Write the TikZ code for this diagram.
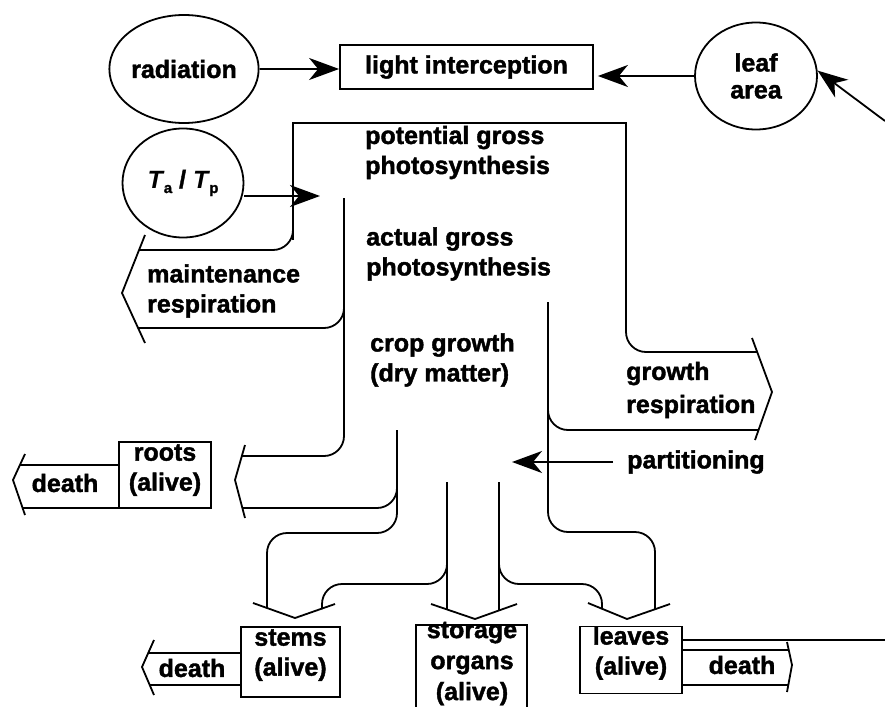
\documentclass[tikz,border=0pt]{standalone}
\usepackage{fontspec}
\setmainfont{Liberation Sans}[BoldFeatures={FakeBold=1.6}]
\usetikzlibrary{arrows.meta,shapes.geometric}
\newcommand\dfont{\fontsize{25}{30}\selectfont\bfseries}
\newcommand\dnr[1]{\rule[-#1]{0pt}{#1}}
\begin{document}
\begin{tikzpicture}[x=1pt,y=-1pt,
  every node/.style={font=\dfont, inner sep=0pt},
  ln/.style={line width=1.8pt},
  rc/.style={ln, rounded corners=20pt},
  circ/.style={ellipse, draw, line width=1.8pt, align=center},
  box/.style={rectangle, draw, line width=1.8pt, align=center},
  lbl/.style={align=left, anchor=west},
  arr/.style={line width=1.8pt, -{Stealth[length=30pt,width=22pt,inset=9pt]}},
  chev/.style={line width=1.8pt, line join=miter}
]
\useasboundingbox (0,0) rectangle (885,706);
\clip (0,0) rectangle (885,706);

% input circles and top box
\node[circ, minimum width=120pt, minimum height=108pt] (rad) at (184,69) {radiation};
\node[box, minimum width=253pt, minimum height=44pt] (light) at (466.5,67) {light interception};
\node[circ, minimum width=122pt, minimum height=107pt, font=\fontsize{25}{27}\selectfont\bfseries] (leaf) at (756,76) {leaf\\area};
\node[circ, minimum width=121pt, minimum height=109pt] (tc) at (183,183)
  {{\itshape T}\kern1pt\raisebox{-5pt}{\fontsize{15}{15}\selectfont a}\ /\ {\itshape T}\kern1pt\raisebox{-5pt}{\fontsize{15}{15}\selectfont p}};

\coordinate (ttip) at (320,196);
\coordinate (fb) at (885,121);
\coordinate (ptip) at (512,462);

\draw[arr] (rad.east) -- (rad.east -| light.west);
\draw[arr, shorten >=4pt] (leaf.west) -- (leaf.west -| light.east);
\draw[arr] (fb) -- (leaf.5);
\draw[arr] (ttip -| tc.east) -- (ttip);

% flow labels
\node[lbl] (pot) at (365,152.5) {potential gross\\photosynthesis};
\node[lbl] (act) at (366,254) {actual gross\\photosynthesis};
\node[lbl] (crop) at (370,360) {crop growth\\(dry matter)};
\node[lbl] (maint) at (147,291) {maintenance\\respiration};
\node[lbl] (grow) at (626,390) {growth\\[3pt]respiration};
\node[lbl] (part) at (627,462) {partitioning};
\draw[arr] ([xshift=-14pt]part.west) -- (ptip);

% main band
\draw[ln] (293,240) -- (293,123) -- (626,123) -- (626,330);
\draw[rc] (293,200) |- (139,250);
\draw[rc] (344,198) |- (138,328);
\draw[rc] (344,300) |- (242,456);
\draw[rc] (626,300) |- (757,352);
\draw[rc] (548,302) |- (758,430);
\draw[rc] (548,400) |- (655,532) -- (655,609);
\draw[rc] (397,430) |- (242,508);
\draw[rc] (397,470) |- (267,533) -- (267,608);
\draw[ln] (447,482) -- (447,610);
\draw[ln] (499,482) -- (499,610);
\draw[rc] (447,540) |- (322,584) -- (322,609);
\draw[rc] (499,540) |- (602,584) -- (602,609);

% band heads
\draw[chev] (145,235) -- (122,293) -- (145,343);
\draw[chev] (752,338) -- (772,392) -- (755,440);
\draw[chev] (245,445) -- (235,480) -- (245,518);
\draw[chev] (253,603) -- (295,618) -- (335,604);
\draw[chev] (431,604) -- (475,619) -- (517,604);
\draw[chev] (588,603) -- (627,619) -- (670,604);

% organ boxes
\node[box, minimum width=92pt, minimum height=66pt] (roots) at (165,475) {roots\\(alive)\dnr{15pt}};
\node[box, minimum width=99pt, minimum height=70pt] (stems) at (290.5,662) {stems\\(alive)\dnr{19pt}};
\node[box, minimum width=102pt, minimum height=66pt] (leaves) at (631,660) {leaves\\(alive)\dnr{19pt}};
\draw[ln] (416,720) |- (527,625) -- (527,720);
\node[align=center, font=\fontsize{25}{31}\selectfont\bfseries] (stor) at (472,663.5) {storage\\organs\\(alive)};

% death arrows
\node (rdeath) at (65,483) {death};
\draw[ln] (119,465) -- (20,465);
\draw[ln] (119,508) -- (22.6,508);
\draw[chev] (25,454) -- (13,480) -- (25,515);

\node (sdeath) at (192,668) {death};
\draw[ln] (241,653) -- (148,653);
\draw[ln] (241,685) -- (149.7,685);
\draw[chev] (154,640) -- (142,667) -- (154,695);

\node (ldeath) at (742,665) {death};
\draw[ln] (682,650) -- (788.7,650);
\draw[ln] (682,685) -- (788.3,685);
\draw[chev] (787,642) -- (792,665) -- (787,692);
\draw[ln] (682,640) -- (890,640);
\end{tikzpicture}
\end{document}
